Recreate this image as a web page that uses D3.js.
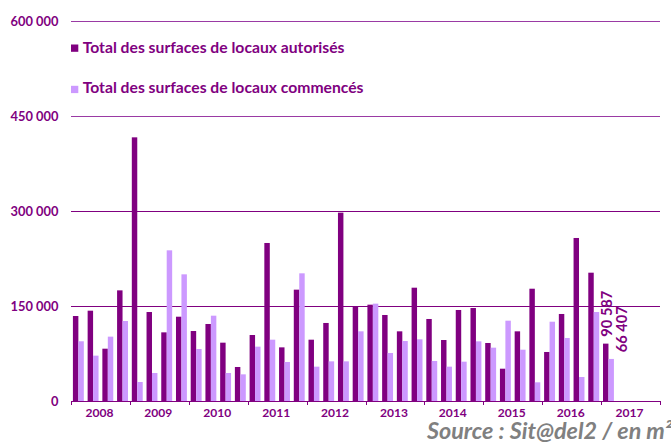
<!DOCTYPE html>
<html><head><meta charset="utf-8">
<script src="https://cdn.jsdelivr.net/npm/d3@7"></script>
<style>html,body{margin:0;padding:0;background:#fff;overflow:hidden}</style>
</head><body>
<svg id="chart" width="671" height="443"></svg>
<script>
// ---- data ----
const years = ["2008","2009","2010","2011","2012","2013","2014","2015","2016","2017"];
const quartersPerYear = 4;
const seriesNames = ["Total des surfaces de locaux autorisés","Total des surfaces de locaux commencés"];
const autorises = [134200,142600,82600,174700, 416300,140500,108400,133100, 110500,121600,92100,53700,
  104200,249500,84700,175800, 96800,123200,297400,149500, 152100,135800,110000,178900,
  129500,96300,143700,146800, 91600,51000,110000,177300, 77400,137400,257400,202600, 90587];
const commences = [94300,71600,101600,126300, 30000,44200,237900,200000, 82100,134700,44200,42100,
  85800,96800,61600,201600, 54200,62600,62600,110000, 153700,75800,94700,97400,
  63200,54200,62100,94200, 84200,126800,81000,29500, 125200,99500,37900,140500, 66407];
const yTicks = [0,150000,300000,450000,600000];
const sourceText = "Source : Sit@del2 / en m²";

// ---- style ----
const dark = "#800080", light = "#cc99ff", textCol = "#800080", grey = "#808080";
const FONT = "Lato, 'Open Sans', sans-serif";

const svg = d3.select("#chart");
const mLeft = 71, mRight = 660, mTop = 21, mBottom = 401;

const slots = d3.range(years.length * quartersPerYear);
const x = d3.scaleBand().domain(slots).range([mLeft, mRight]).paddingInner(0).paddingOuter(0);
const xs = d3.scaleBand().domain(["a","c"]).range([0, x.bandwidth()]).paddingInner(0).paddingOuter(0.35);
const xYear = d3.scaleBand().domain(years).range([mLeft, mRight]);
const y = d3.scaleLinear().domain([0, 600000]).range([mBottom, mTop]);

const locale = d3.formatLocale({decimal:",", thousands:" ", grouping:[3], currency:["","€"]});
const fmt = locale.format(",d");

function fitSize(str, weight, style, target){
  const t = svg.append("text").attr("font-family", FONT).attr("font-weight", weight)
    .attr("font-style", style).attr("font-size", 100).text(str);
  const w = t.node().getComputedTextLength(); t.remove();
  return 100 * target / w;
}

// gridlines
svg.append("g").selectAll("line").data(yTicks.filter(d => d > 0)).join("line")
  .attr("x1", mLeft).attr("x2", mRight)
  .attr("y1", d => Math.round(y(d)) + 0.5).attr("y2", d => Math.round(y(d)) + 0.5)
  .attr("stroke", d => d >= 450000 ? "#9a3aa4" : dark).attr("stroke-width", 1);

// y labels
const ySize = fitSize("600 000", 700, "normal", 48);
svg.append("g").selectAll("text").data(yTicks).join("text")
  .attr("x", 58.5).attr("y", d => y(d)).attr("dy", "0.36em")
  .attr("text-anchor", "end").attr("font-family", FONT).attr("font-weight", 700)
  .attr("font-size", ySize).attr("fill", textCol).text(d => fmt(d));

// bars
const gBars = svg.append("g");
gBars.selectAll("rect.a").data(autorises).join("rect").attr("class","a")
  .attr("x", (d,i) => x(i) + xs("a")).attr("width", xs.bandwidth())
  .attr("y", d => y(d)).attr("height", d => y(0) - y(d)).attr("fill", dark);
gBars.selectAll("rect.c").data(commences).join("rect").attr("class","c")
  .attr("x", (d,i) => x(i) + xs("c")).attr("width", xs.bandwidth())
  .attr("y", d => y(d)).attr("height", d => y(0) - y(d)).attr("fill", light);

// x axis line + boundary ticks
svg.append("line").attr("x1", mLeft).attr("x2", mRight).attr("y1", mBottom + 0.5).attr("y2", mBottom + 0.5)
  .attr("stroke", dark).attr("stroke-width", 1.2);
const bounds = years.map(d => xYear(d)).concat([mRight]);
svg.append("g").selectAll("line").data(bounds).join("line")
  .attr("x1", d => Math.round(d) + 0.5).attr("x2", d => Math.round(d) + 0.5)
  .attr("y1", mBottom).attr("y2", mBottom + 4).attr("stroke", dark).attr("stroke-width", 1);

// year labels
const yrSize = fitSize("2008", 700, "normal", 28);
svg.append("g").selectAll("text").data(years).join("text")
  .attr("x", d => xYear(d) + xYear.bandwidth()/2 - 1).attr("y", 417)
  .attr("text-anchor", "middle").attr("font-family", FONT).attr("font-weight", 700)
  .attr("font-size", yrSize).attr("fill", textCol).text(d => d);

// data labels for the last quarter
const last = autorises.length - 1;
const lblSize = fitSize("90 587", 700, "normal", 46);
svg.append("text")
  .attr("transform", `translate(${x(last) + xs("a") + xs.bandwidth()/2 + 6},${y(autorises[last]) - 7}) rotate(-90)`)
  .attr("font-family", FONT).attr("font-weight", 700).attr("font-size", lblSize)
  .attr("fill", textCol).text(fmt(autorises[last]));
svg.append("text")
  .attr("transform", `translate(${x(last) + xs("c") + xs.bandwidth()/2 + 15.5},${y(commences[last]) - 6.6}) rotate(-90)`)
  .attr("font-family", FONT).attr("font-weight", 700).attr("font-size", lblSize)
  .attr("fill", textCol).text(fmt(commences[last]));

// legend
const legSize = fitSize(seriesNames[0], 700, "normal", 262);
const leg = svg.append("g");
[[dark, 44.5, 53.3],[light, 85.8, 93.3]].forEach(([c, sy, ty], i) => {
  leg.append("rect").attr("x", 71).attr("y", sy).attr("width", 7.3).attr("height", 7.3).attr("fill", c);
  leg.append("text").attr("x", 82.7).attr("y", ty).attr("font-family", FONT).attr("font-weight", 700)
    .attr("font-size", legSize).attr("fill", textCol).text(seriesNames[i]);
});

// source
const srcSize = fitSize("Source : Sit@del2 / en m", 700, "italic", 238);
svg.append("text").attr("x", 427).attr("y", 438.5).attr("font-family", FONT)
  .attr("font-weight", 700).attr("font-style", "italic").attr("font-size", srcSize)
  .attr("fill", grey).text(sourceText);
</script>
</body></html>
